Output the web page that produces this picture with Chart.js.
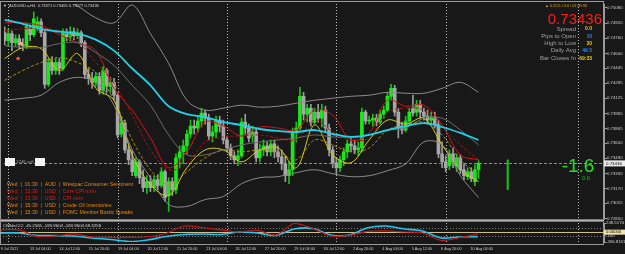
<!DOCTYPE html>
<html><head><meta charset="utf-8">
<script src="https://cdn.jsdelivr.net/npm/chart.js@4.4.1/dist/chart.umd.min.js"></script>
<style>
html,body{margin:0;padding:0;background:#181818;overflow:hidden}
#wrap{position:relative;width:625px;height:254px}
canvas{position:absolute;left:0;top:0}
</style></head><body>
<div id="wrap"><canvas id="main" width="625" height="254"></canvas><canvas id="sub" width="625" height="254"></canvas></div>
<script>
// ---------------- data ----------------
const symbolTitle = 'AUDUSD.a,H4  0.73371 0.73465 0.73277 0.73436';
const openP = [0.74818,0.74734,0.74808,0.74713,0.74755,0.74692,0.74682,0.74860,0.74797,0.74881,
 0.74934,0.74818,0.74272,0.74503,0.74419,0.74503,0.74440,0.74818,0.74776,0.74829,
 0.74787,0.74818,0.74713,0.74377,0.74335,0.74293,0.74356,0.74209,0.74419,0.74251,
 0.74293,0.74157,0.73747,0.73863,0.73579,0.73474,0.73306,0.73453,0.73285,0.73180,
 0.73243,0.73180,0.73264,0.73201,0.73348,0.73096,0.73243,0.73159,0.73495,0.73558,
 0.73621,0.73747,0.73831,0.73810,0.73884,0.73968,0.73915,0.73726,0.73768,0.73894,
 0.73831,0.73684,0.73600,0.73516,0.73474,0.73516,0.73873,0.73810,0.73726,0.73768,
 0.73495,0.73579,0.73621,0.73558,0.73642,0.73558,0.73506,0.73432,0.73306,0.73369,
 0.73768,0.73810,0.74146,0.73957,0.74020,0.73873,0.73978,0.73915,0.73999,0.73810,
 0.73579,0.73443,0.73390,0.73474,0.73558,0.73642,0.73621,0.73579,0.73600,0.73978,
 0.73884,0.73894,0.73915,0.73873,0.73957,0.73999,0.74146,0.74230,0.73978,0.73810,
 0.73789,0.73884,0.74020,0.73978,0.74062,0.73978,0.73936,0.73894,0.73926,0.73852,
 0.73537,0.73453,0.73411,0.73537,0.73411,0.73495,0.73369,0.73296,0.73348,0.73243,
 0.73371];
const highP = [0.74881,0.74860,0.74839,0.74797,0.74797,0.74755,0.74923,0.74902,0.75039,0.74986,
 0.74965,0.74839,0.74545,0.74566,0.74545,0.74545,0.74860,0.74860,0.74881,0.74871,
 0.74860,0.74839,0.74734,0.74440,0.74398,0.74398,0.74398,0.74461,0.74440,0.74346,
 0.74335,0.74188,0.73915,0.73894,0.73621,0.73579,0.73495,0.73474,0.73369,0.73306,
 0.73306,0.73306,0.73317,0.73390,0.73369,0.73285,0.73285,0.73537,0.73621,0.73684,
 0.73789,0.73894,0.73894,0.73936,0.74020,0.73999,0.73957,0.73831,0.73936,0.73936,
 0.73894,0.73726,0.73642,0.73558,0.73579,0.73915,0.73957,0.73852,0.73831,0.73810,
 0.73642,0.73684,0.73663,0.73684,0.73684,0.73621,0.73579,0.73516,0.73453,0.73810,
 0.73873,0.74241,0.74188,0.74062,0.74062,0.74020,0.74062,0.74062,0.74041,0.73852,
 0.73621,0.73495,0.73516,0.73600,0.73684,0.73705,0.73684,0.73663,0.74020,0.73999,
 0.73936,0.73957,0.73957,0.73999,0.74041,0.74188,0.74272,0.74262,0.74020,0.73873,
 0.73936,0.74020,0.74157,0.74104,0.74104,0.74020,0.73999,0.73978,0.73978,0.73894,
 0.73663,0.73516,0.73579,0.73600,0.73537,0.73527,0.73432,0.73390,0.73390,0.73422,
 0.73465];
const lowP = [0.74692,0.74671,0.74629,0.74671,0.74650,0.74629,0.74650,0.74734,0.74776,0.74839,
 0.74776,0.74230,0.74251,0.74377,0.74377,0.74377,0.74419,0.74734,0.74734,0.74745,
 0.74755,0.74671,0.74335,0.74272,0.74230,0.74251,0.74167,0.74167,0.74188,0.74188,
 0.74104,0.73705,0.73716,0.73548,0.73422,0.73306,0.73285,0.73222,0.73138,0.73117,
 0.73138,0.73138,0.73159,0.73180,0.73033,0.72928,0.73096,0.73117,0.73390,0.73432,
 0.73537,0.73705,0.73747,0.73768,0.73821,0.73852,0.73684,0.73663,0.73705,0.73768,
 0.73642,0.73558,0.73474,0.73432,0.73411,0.73495,0.73747,0.73663,0.73663,0.73453,
 0.73453,0.73516,0.73516,0.73516,0.73495,0.73453,0.73369,0.73243,0.73222,0.73306,
 0.73663,0.73789,0.73894,0.73873,0.73831,0.73852,0.73873,0.73821,0.73768,0.73516,
 0.73390,0.73327,0.73348,0.73411,0.73495,0.73558,0.73537,0.73516,0.73558,0.73852,
 0.73852,0.73831,0.73831,0.73852,0.73915,0.73978,0.74104,0.73936,0.73705,0.73747,
 0.73768,0.73852,0.73936,0.73936,0.73915,0.73894,0.73852,0.73852,0.73810,0.73495,
 0.73390,0.73348,0.73369,0.73390,0.73348,0.73327,0.73264,0.73264,0.73243,0.73201,
 0.73277];
const closeP = [0.74734,0.74808,0.74713,0.74755,0.74692,0.74682,0.74881,0.74797,0.74965,0.74934,
 0.74818,0.74272,0.74503,0.74419,0.74503,0.74440,0.74818,0.74776,0.74829,0.74787,
 0.74818,0.74713,0.74377,0.74335,0.74293,0.74356,0.74209,0.74419,0.74251,0.74293,
 0.74157,0.73737,0.73863,0.73579,0.73474,0.73348,0.73453,0.73285,0.73180,0.73243,
 0.73180,0.73264,0.73201,0.73348,0.73075,0.73243,0.73159,0.73495,0.73558,0.73621,
 0.73747,0.73831,0.73810,0.73884,0.73968,0.73915,0.73726,0.73768,0.73894,0.73831,
 0.73684,0.73600,0.73516,0.73474,0.73516,0.73873,0.73810,0.73705,0.73768,0.73495,
 0.73579,0.73621,0.73558,0.73642,0.73558,0.73506,0.73432,0.73306,0.73369,0.73768,
 0.73810,0.74146,0.73957,0.74020,0.73873,0.73978,0.73915,0.73999,0.73810,0.73579,
 0.73443,0.73390,0.73474,0.73558,0.73642,0.73621,0.73579,0.73600,0.73978,0.73884,
 0.73894,0.73915,0.73873,0.73957,0.73999,0.74146,0.74230,0.73978,0.73810,0.73789,
 0.73884,0.73978,0.73968,0.74062,0.73978,0.73936,0.73894,0.73926,0.73852,0.73537,
 0.73453,0.73390,0.73537,0.73453,0.73495,0.73369,0.73306,0.73348,0.73275,0.73369,
 0.73436];
const extraBarIdx = [138];
const extraBarLow = [0.73159];
const extraBarHigh = [0.73474];
const markerIdx = [3.7, 4.5];
const markerPrice = [0.74545, 0.74703];

const lineIdx = [0,5,10,15,20,25,30,35,40,45,50,55,60,65,70,75,80,85,90,95,100,105,110,115,120,125,130];
const cyanMA = [0.74955,0.74913,0.74860,0.74829,0.74808,0.74745,0.74629,0.74440,0.74262,0.74041,0.73957,0.73926,0.73873,0.73842,0.73800,0.73779,0.73768,0.73789,0.73747,0.73716,0.73737,0.73789,0.73831,0.73863,0.73821,0.73758,0.73684];
const bandUpper = [0.75364,0.75280,0.75238,0.75186,0.75101,0.74976,0.74923,0.75112,0.74808,0.74493,0.74104,0.73999,0.74020,0.74052,0.74031,0.74041,0.74073,0.74104,0.74125,0.74146,0.74157,0.74188,0.74178,0.74178,0.74230,0.74293,0.74188];
const bandLower = [0.74104,0.74125,0.74157,0.74293,0.74346,0.74293,0.74052,0.73579,0.73285,0.73002,0.72981,0.73054,0.73086,0.73222,0.73285,0.73296,0.73338,0.73369,0.73327,0.73296,0.73306,0.73359,0.73432,0.73663,0.73632,0.73306,0.73075];
const bandMid = [0.74682,0.74661,0.74661,0.74703,0.74713,0.74608,0.74472,0.74262,0.74052,0.73737,0.73527,0.73527,0.73579,0.73632,0.73663,0.73684,0.73705,0.73737,0.73716,0.73716,0.73737,0.73789,0.73810,0.73915,0.73915,0.73789,0.73632];
const redSolid = [0.74923,0.74923,0.74892,0.74797,0.74713,0.74629,0.74230,0.73999,0.73705,0.73390,0.73558,0.73873,0.73831,0.73726,0.73821,0.73810,0.73789,0.73999,0.73947,0.73684,0.73758,0.74104,0.74041,0.74052,0.73842,0.73527,0.73474];
const redDashed = [0.74839,0.74860,0.74860,0.74839,0.74734,0.74503,0.74283,0.73947,0.73579,0.73369,0.73432,0.73663,0.73716,0.73726,0.73737,0.73705,0.73684,0.73894,0.73768,0.73684,0.73705,0.73978,0.74020,0.73999,0.73821,0.73632,0.73474];
const yellowSolid = [0.74545,0.74661,0.74650,0.74419,0.74598,0.74230,0.74104,0.73527,0.73212,0.73096,0.73390,0.73579,0.73579,0.73453,0.73579,0.73600,0.73390,0.73842,0.73527,0.73443,0.73684,0.73894,0.73852,0.73915,0.73632,0.73369,0.73243];
const yellowDashed = [0.74314,0.74419,0.74503,0.74556,0.74503,0.74398,0.74104,0.73684,0.73369,0.73212,0.73348,0.73495,0.73579,0.73558,0.73579,0.73558,0.73474,0.73684,0.73632,0.73558,0.73600,0.73789,0.73842,0.73873,0.73737,0.73474,0.73317];

const cciRed  = [60,60,-117,-103,-49,-130,-144,-144,-125,-35,168,127,60,5,46,-76,236,100,-103,-89,19,33,5,-22,-225,-152,-45];
const cciCyan = [-22,-22,-89,-95,-103,-157,-198,-252,-211,-117,-62,-49,-62,5,-22,-89,87,100,-76,-76,119,168,87,33,-157,-130,-122];
const cciLevels = [100, 0, -100];
const cciTicks = [248.5174, -100, -266.8161];
const cciTickLabels = ['248.5174', '-100', '-266.8161'];
const cciTitle = 'CMIdeCCI -45.2565 -183.9604 -183.9604 68.3258';

const priceTicks = [0.75080,0.74920,0.74760,0.74600,0.74445,0.74285,0.74125,0.73965,0.73805,0.73650,0.73490,0.73330,0.73170,0.73015,0.72850];
const timeTickIdx = [0,8,16,24,32,40,48,56,64,72,80,88,96,104,112,120,128];
const timeLabels = ['9 Jul 2021','13 Jul 04:00','14 Jul 12:00','15 Jul 20:00','19 Jul 04:00','20 Jul 12:00','21 Jul 20:00','23 Jul 04:00','26 Jul 12:00','27 Jul 20:00','29 Jul 04:00','30 Jul 12:00','2 Aug 20:00','4 Aug 04:00','5 Aug 12:00','6 Aug 20:00','10 Aug 04:00'];
const weekStartIdx = [1,31,61,91,121];
const extraLineIdx = [157.2];

const newsLines = ['Wed  |  01:30  |  AUD  |  Westpac Consumer Sentiment','Wed  |  13:30  |  USD  |  Core CPI m/m','Wed  |  13:30  |  USD  |  CPI m/m','Wed  |  15:30  |  USD  |  Crude Oil Inventories','Wed  |  15:30  |  USD  |  FOMC Member Bostic Speaks'];
const newsImpact = ['med','high','high','med','med'];
const infoHeader = '\u25B2 0.21% / 0.0 / 01:09:33';
const infoPrice = '0.73436';
const infoLabels = ['Spread','Pips to Open','High to Low','Daily Avg','Bar Closes In'];
const infoValues = ['0.0','16','30','49.5','69:33'];
const infoKinds = ['y','b','y','b','y'];
const bigDelta = '-1.6';
const smallDelta = '0.0';
const tradeLabel = '1246 sell';

// ---------------- helpers ----------------
const FONT = '"Liberation Sans", Arial, sans-serif';
Chart.defaults.font.family = FONT;
const X_MIN = -0.1717, X_MAX = 164.41;
const N = openP.length;
const idx = openP.map((_, i) => i);
const bull = idx.map(i => closeP[i] >= openP[i]);
const mkLine = (arr) => lineIdx.map((x, k) => ({x, y: arr[k]}));

const mainDeco = {
  id: 'mainDeco',
  beforeDraw(c) { const g = c.ctx; g.save(); g.fillStyle = '#181818'; g.fillRect(0, 0, c.width, c.height); g.restore(); },
  beforeDatasetsDraw(c) {
    const g = c.ctx, xs = c.scales.x, ys = c.scales.y, a = c.chartArea;
    g.save();
    g.strokeStyle = '#bdbdbd'; g.lineWidth = 1; g.setLineDash([1, 2]);
    weekStartIdx.concat(extraLineIdx).forEach(v => {
      const px = Math.round(xs.getPixelForValue(v)) + 0.5;
      g.beginPath(); g.moveTo(px, a.top); g.lineTo(px, 246); g.stroke();
    });
    const py = Math.round(ys.getPixelForValue(closeP[N - 1])) + 0.5;
    g.strokeStyle = '#8c8c8c'; g.setLineDash([3, 2]);
    g.beginPath(); g.moveTo(a.left, py); g.lineTo(a.right, py); g.stroke();
    g.restore();
  },
  afterDraw(c) {
    const g = c.ctx, ys = c.scales.y;
    g.save();
    g.setLineDash([]);
    g.strokeStyle = '#9a9a9a'; g.lineWidth = 1;
    g.strokeRect(0.5, 1.5, 603, 243);
    g.fillStyle = '#7a7a7a'; g.fillRect(0, 219, 604, 3);
    g.fillStyle = '#b4b4b4'; g.fillRect(0, 220, 604, 1);
    g.fillStyle = '#d8d8d8'; g.textBaseline = 'middle'; g.textAlign = 'left';
    g.font = '4px ' + FONT; g.fillText('\u25BC', 3, 5.5);
    g.fillText(symbolTitle, 9, 5.5);
    g.fillStyle = '#e6a628'; g.font = '3.8px ' + FONT; g.fillText(infoHeader, 545, 6);
    g.textAlign = 'right'; g.textBaseline = 'alphabetic';
    g.fillStyle = '#ff1c1c'; g.font = '15px ' + FONT; g.fillText(infoPrice, 602, 24);
    g.textBaseline = 'middle';
    const iy = [29, 36.2, 43.4, 50.8, 58.2];
    infoLabels.forEach((t, k) => {
      g.fillStyle = '#a0a0a0'; g.font = '6px ' + FONT; g.fillText(t, 576, iy[k]);
      g.fillStyle = infoKinds[k] === 'y' ? '#f0c800' : '#1e8cff'; g.font = 'bold 5px ' + FONT;
      g.fillText(infoValues[k], 592, iy[k]);
    });
    g.textAlign = 'center'; g.textBaseline = 'alphabetic';
    g.fillStyle = '#22e022'; g.font = '19px ' + FONT; g.fillText(bigDelta, 578, 172);
    g.fillStyle = '#1fae1f'; g.font = '6px ' + FONT; g.fillText(smallDelta, 586, 180);
    g.fillStyle = '#f4f4f4'; g.fillRect(5, 158, 10, 8); g.fillRect(35, 158, 10, 8);
    g.fillStyle = '#a8a8a8'; g.textAlign = 'left'; g.textBaseline = 'middle'; g.font = '4.4px ' + FONT;
    g.fillText(tradeLabel, 16, 162);
    g.font = '5.2px ' + FONT;
    newsLines.forEach((t, k) => {
      g.fillStyle = newsImpact[k] === 'high' ? '#e01c1c' : '#e8870c';
      g.fillText(t, 7, 184.3 + k * 7.1);
    });
    const py = ys.getPixelForValue(closeP[N - 1]);
    g.fillStyle = '#ececec'; g.fillRect(604, py - 3, 21, 6);
    g.fillStyle = '#000'; g.font = '4.4px ' + FONT; g.textAlign = 'left';
    g.fillText(closeP[N - 1].toFixed(5), 606, py);
    g.restore();
  }
};

const subDeco = {
  id: 'subDeco',
  beforeDatasetsDraw(c) {
    const g = c.ctx, ys = c.scales.y, a = c.chartArea;
    g.save();
    cciLevels.forEach(v => {
      const py = Math.round(ys.getPixelForValue(v)) + 0.5;
      if (v === 0) { g.setLineDash([]); g.strokeStyle = '#cdbf8c'; }
      else { g.setLineDash([1, 2]); g.strokeStyle = '#808080'; }
      g.lineWidth = 1; g.beginPath(); g.moveTo(a.left, py); g.lineTo(a.right, py); g.stroke();
    });
    g.restore();
  },
  afterDraw(c) {
    const g = c.ctx, ys = c.scales.y;
    g.save();
    g.fillStyle = '#d4d4d4'; g.font = '4.4px ' + FONT; g.textBaseline = 'middle'; g.textAlign = 'left';
    g.fillText(cciTitle, 3, 225.8);
    const y0 = ys.getPixelForValue(0);
    g.fillStyle = '#f2e3ad'; g.fillRect(604, y0 - 2.5, 21, 5);
    g.fillStyle = '#000'; g.font = '4.2px ' + FONT; g.fillText('0.00000', 606, y0);
    g.restore();
  }
};

const axisFitY = s => { s.width = 21; s.paddingTop = 0; s.paddingBottom = 0; };

new Chart(document.getElementById('main'), {
  type: 'bar',
  data: { datasets: [
    { type: 'line', data: mkLine(cyanMA), borderColor: '#1fd2ec', borderWidth: 1.8, pointRadius: 0, tension: 0.35, order: 0 },
    { type: 'line', data: mkLine(bandUpper), borderColor: '#8a8a8a', borderWidth: 1, pointRadius: 0, tension: 0.35, order: 1 },
    { type: 'line', data: mkLine(bandLower), borderColor: '#8a8a8a', borderWidth: 1, pointRadius: 0, tension: 0.35, order: 1 },
    { type: 'line', data: mkLine(bandMid), borderColor: '#6c6c6c', borderWidth: 1, pointRadius: 0, tension: 0.35, order: 1 },
    { type: 'line', data: mkLine(redSolid), borderColor: '#d81212', borderWidth: 1, pointRadius: 0, tension: 0.35, order: 1 },
    { type: 'line', data: mkLine(redDashed), borderColor: '#b01010', borderWidth: 1, borderDash: [3, 2], pointRadius: 0, tension: 0.35, order: 1 },
    { type: 'line', data: mkLine(yellowSolid), borderColor: '#d8cc16', borderWidth: 1, pointRadius: 0, tension: 0.35, order: 1 },
    { type: 'line', data: mkLine(yellowDashed), borderColor: '#a88e12', borderWidth: 1, borderDash: [3, 2], pointRadius: 0, tension: 0.35, order: 1 },
    { type: 'line', data: markerIdx.map((x, k) => ({x, y: markerPrice[k]})), showLine: false, pointRadius: 1.8, pointBorderWidth: 0,
      pointBackgroundColor: ['#ff4a4a', '#ffb27a'], order: 0 },
    { type: 'bar', data: idx.map(i => ({x: i, y: [openP[i], closeP[i]]})), backgroundColor: idx.map(i => bull[i] ? '#1ee61e' : '#a8a8a8'),
      barThickness: 3, minBarLength: 1, grouped: false, borderWidth: 0, order: 2 },
    { type: 'bar', data: idx.map(i => ({x: i, y: [lowP[i], highP[i]]})), backgroundColor: idx.map(i => bull[i] ? '#18c018' : '#9c9c9c'),
      barThickness: 1, grouped: false, borderWidth: 0, order: 3 },
    { type: 'bar', data: extraBarIdx.map((x, k) => ({x, y: [extraBarLow[k], extraBarHigh[k]]})), backgroundColor: '#1cb81c',
      barThickness: 1.5, grouped: false, borderWidth: 0, order: 3 }
  ]},
  options: {
    responsive: false, animation: false, devicePixelRatio: 1, events: [],
    layout: { padding: { top: 3, bottom: 35, left: 0, right: 0 } },
    plugins: { legend: { display: false }, tooltip: { enabled: false } },
    scales: {
      x: { type: 'linear', min: X_MIN, max: X_MAX, offset: false, display: false },
      y: { position: 'right', min: 0.72848, max: 0.751220,
        afterBuildTicks: s => { s.ticks = priceTicks.map(v => ({value: v})); },
        afterFit: axisFitY,
        grid: { drawOnChartArea: false, drawTicks: true, tickLength: 3, color: '#9a9a9a' },
        border: { display: true, color: '#9a9a9a' },
        ticks: { color: '#d0d0d0', font: { size: 4.3 }, padding: 0, callback: v => v.toFixed(5) } }
    }
  },
  plugins: [mainDeco]
});

new Chart(document.getElementById('sub'), {
  type: 'line',
  data: { datasets: [
    { data: mkLine(cciRed), borderColor: '#c81414', borderWidth: 1.2, pointRadius: 0, tension: 0.3 },
    { data: mkLine(cciCyan), borderColor: '#1ec6f0', borderWidth: 1.6, pointRadius: 0, tension: 0.3 }
  ]},
  options: {
    responsive: false, animation: false, devicePixelRatio: 1, events: [],
    layout: { padding: { top: 223, bottom: 0, left: 0, right: 0 } },
    plugins: { legend: { display: false }, tooltip: { enabled: false } },
    scales: {
      x: { type: 'linear', min: X_MIN, max: X_MAX, offset: false,
        afterBuildTicks: s => { s.ticks = timeTickIdx.map(v => ({value: v})); },
        afterFit: s => { s.height = 12; s.paddingLeft = 0; s.paddingRight = 0; },
        grid: { display: false, drawTicks: false }, border: { display: false },
        ticks: { color: '#c8c8c8', font: { size: 3.8 }, align: 'start', padding: 4.5, autoSkip: false, maxRotation: 0,
          callback: (v, i) => timeLabels[i] } },
      y: { position: 'right', min: -266.8161, max: 248.5174,
        afterBuildTicks: s => { s.ticks = cciTicks.map(v => ({value: v})); },
        afterFit: axisFitY,
        grid: { drawOnChartArea: false, drawTicks: true, tickLength: 2, color: '#9a9a9a' },
        border: { display: true, color: '#9a9a9a' },
        ticks: { color: '#d0d0d0', font: { size: 4.3 }, padding: 0, callback: (v, i) => cciTickLabels[i] } }
    }
  },
  plugins: [subDeco]
});
</script>
</body></html>
